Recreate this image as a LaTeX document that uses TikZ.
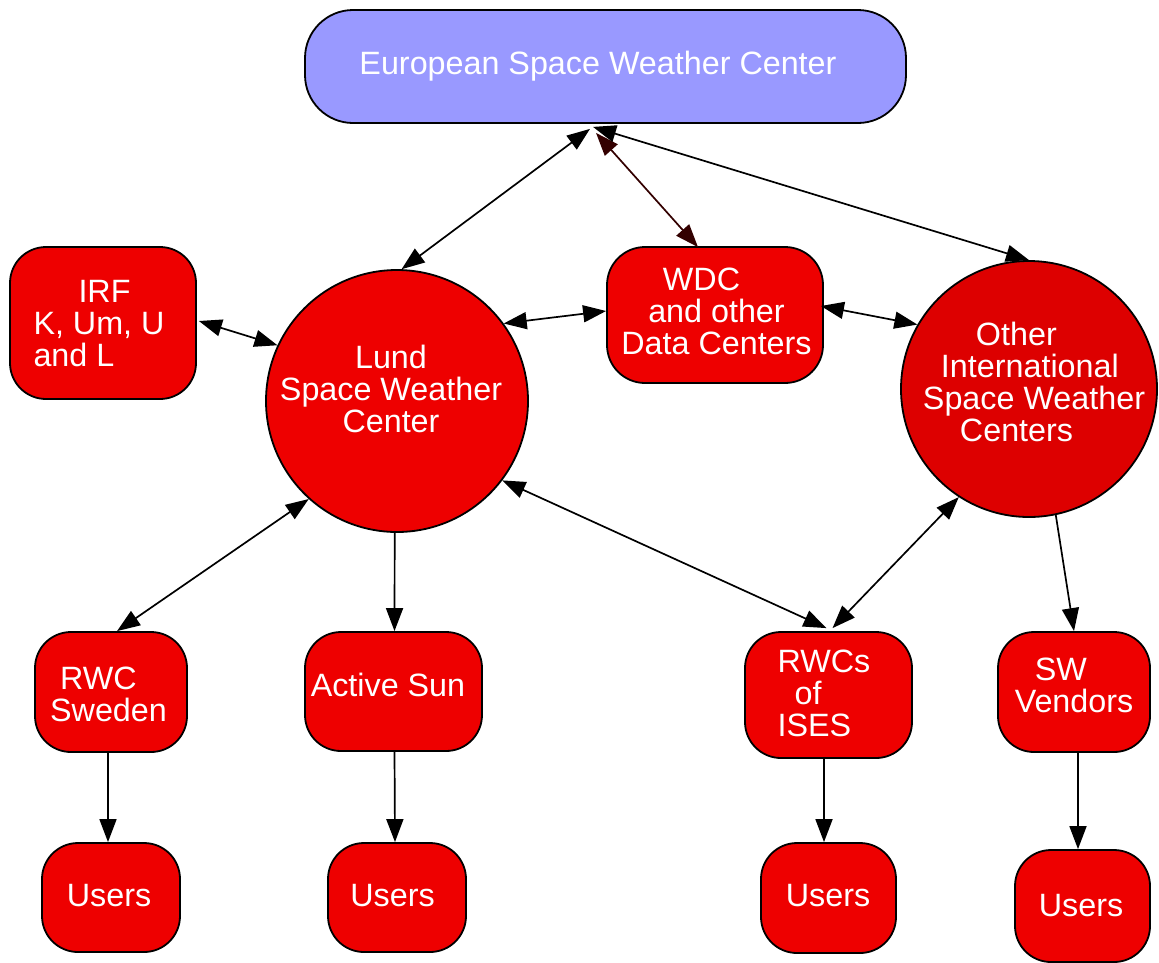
\documentclass[tikz,border=0pt]{standalone}
\usepackage{fontspec}
\setmainfont{Liberation Sans}
\usetikzlibrary{arrows.meta,calc}
\definecolor{nodered}{HTML}{EE0000}
\definecolor{otherred}{HTML}{DD0000}
\definecolor{eswcblue}{HTML}{9999FF}
\definecolor{edgebrown}{HTML}{330000}
\begin{document}
\begin{tikzpicture}[x=1pt,y=-1pt,
  box/.style={draw=black, line width=1.8pt, fill=nodered, rounded corners=36pt, inner sep=0pt},
  circ/.style={circle, draw=black, line width=1.8pt, fill=nodered, inner sep=0pt},
  txt/.style={text=white, font=\fontsize{32.3}{32}\selectfont, inner sep=0pt},
  tip/.tip={Triangle[length=23pt,width=17pt]},
  link/.style={line width=1.7pt, tip-tip},
  flow/.style={line width=1.7pt, -tip},
]
\useasboundingbox (0,0) rectangle (1159,962);

% nodes
\node[box, fill=eswcblue, rounded corners=48pt, minimum width=601pt, minimum height=113pt,
  label={[txt, xshift=-7.5pt, yshift=0pt]center:{European Space Weather Center}}] (eswc) at (605.5,66.5) {};
\node[box, minimum width=186pt, minimum height=152pt,
  label={[txt, align=left, xshift=-4pt, yshift=-1pt]center:{\hspace*{45pt}IRF\\K, Um, U\\and L}}] (irf) at (103,323) {};
\node[circ, minimum size=262pt,
  label={[txt, align=center, xshift=-6pt, yshift=12pt]center:{Lund\\Space Weather\\Center}}] (lund) at (397,401) {};
\node[box, minimum width=216pt, minimum height=136pt, rounded corners=38pt,
  label={[txt, align=center, xshift=1.5pt, yshift=4pt]center:{WDC\hspace*{30pt}\\and other\\Data Centers}}] (wdc) at (715,315) {};
\node[circ, fill=otherred, minimum size=256pt,
  label={[txt, align=left, xshift=5pt, yshift=7pt]center:{\hspace*{53pt}Other\\\hspace*{18pt}International\\Space Weather\\\hspace*{37pt}Centers}}] (oth) at (1029,389) {};
\node[box, minimum width=152pt, minimum height=120pt,
  label={[txt, align=left, xshift=-2.5pt, yshift=-2pt]center:{\hspace*{10pt}RWC\\Sweden}}] (rwc) at (111,692) {};
\node[box, minimum width=177pt, minimum height=119pt,
  label={[txt, xshift=-5.5pt, yshift=7pt]center:{Active Sun}}] (asun) at (393.5,691.5) {};
\node[box, minimum width=167pt, minimum height=126pt,
  label={[txt, align=left, xshift=-4.5pt, yshift=2pt]center:{RWCs\\\hspace*{17pt}of\\ISES}}] (rwcs) at (828.5,695) {};
\node[box, minimum width=152pt, minimum height=120pt,
  label={[txt, align=left, xshift=0pt, yshift=7pt]center:{\hspace*{20pt}SW\\Vendors}}] (sw) at (1074,692) {};
\node[box, minimum width=138pt, minimum height=109pt,
  label={[txt, xshift=-2pt, yshift=2pt]center:{Users}}] (u1) at (111,897.5) {};
\node[box, minimum width=138pt, minimum height=109pt,
  label={[txt, xshift=-4.5pt, yshift=2pt]center:{Users}}] (u2) at (397,897.5) {};
\node[box, minimum width=135pt, minimum height=110pt,
  label={[txt, xshift=-0.5pt, yshift=2pt]center:{Users}}] (u3) at (828.5,898) {};
\node[box, minimum width=135pt, minimum height=112pt,
  label={[txt, xshift=-1.5pt, yshift=0pt]center:{Users}}] (u4) at (1082.5,906) {};

% connectors
\draw[link] ($(eswc.south)+(-15.5,5)$) -- (lund.88);
\draw[link, draw=edgebrown, fill=edgebrown] ($(eswc.south)+(-9.5,9)$) -- ($(wdc.north)+(-17,1)$);
\draw[link] ($(eswc.south)+(-12.5,3)$) -- (oth.90);
\draw[link] ($(irf.east)+(2,-2)$) -- (lund.155);
\draw[link] (lund.36) -- ($(wdc.west)+(0,-4)$);
\draw[link] ($(wdc.east)+(-3,-9)$) -- (oth.150);
\draw[link] (lund.228) -- ($(rwc.north)+(6,0)$);
\draw[flow] (lund.269) -- ($(asun.north)+(1,0)$);
\draw[link] (lund.323) -- ($(rwcs.north)+(-2,-3)$);
\draw[link] (oth.237) -- ($(rwcs.north)+(4,-3)$);
\draw[flow] (oth.282) -- (sw.north);
\draw[flow] ($(rwc.south)+(-3,0)$) -- ($(u1.north)+(-3,0)$);
\draw[flow] ($(asun.south)+(1,0)$) -- ($(u2.north)+(-2,0)$);
\draw[flow] ($(rwcs.south)+(-4.5,0)$) -- ($(u3.north)+(-4.5,0)$);
\draw[flow] ($(sw.south)+(4,0)$) -- ($(u4.north)+(-4.5,0)$);
\end{tikzpicture}
\end{document}
